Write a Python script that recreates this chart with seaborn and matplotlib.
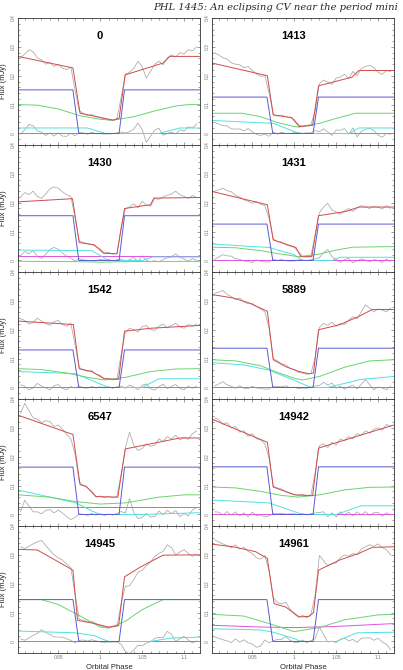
import matplotlib
matplotlib.use("Agg")
import matplotlib.pyplot as plt
import seaborn as sns

# panel order, row by row
labels = ["0", "1413", "1430", "1431", "1542", "5889", "6547", "14942", "14945", "14961"]

# phases of the observed points (same sampling in every panel)
phase = [0.905, 0.910, 0.915, 0.920, 0.925, 0.930, 0.935, 0.940, 0.945, 0.950,
         0.955, 0.960, 0.965, 0.970, 0.975, 0.980, 0.985, 0.990, 0.995, 1.000,
         1.005, 1.010, 1.015, 1.020, 1.025, 1.030, 1.035, 1.040, 1.045, 1.050,
         1.055, 1.060, 1.065, 1.070, 1.075, 1.080, 1.085, 1.090, 1.095, 1.100,
         1.105, 1.110, 1.115]

# observed flux (mJy)
flux = {
    "0": [0.262, 0.275, 0.290, 0.283, 0.262, 0.255, 0.240, 0.246, 0.232, 0.240, 0.226, 0.222, 0.230, 0.150, 0.078, 0.070, 0.062, 0.066, 0.058, 0.055, 0.050, 0.046, 0.045, 0.052, 0.125, 0.205, 0.212, 0.225, 0.250, 0.232, 0.192, 0.215, 0.240, 0.250, 0.238, 0.262, 0.272, 0.265, 0.280, 0.275, 0.290, 0.286, 0.300],
    "1413": [0.280, 0.272, 0.262, 0.258, 0.245, 0.240, 0.238, 0.228, 0.232, 0.218, 0.206, 0.198, 0.200, 0.140, 0.068, 0.060, 0.064, 0.058, 0.055, 0.048, 0.030, 0.025, 0.028, 0.030, 0.080, 0.172, 0.185, 0.178, 0.170, 0.192, 0.195, 0.205, 0.190, 0.215, 0.200, 0.225, 0.232, 0.236, 0.228, 0.212, 0.205, 0.218, 0.215],
    "1430": [0.220, 0.235, 0.228, 0.240, 0.222, 0.215, 0.230, 0.248, 0.255, 0.250, 0.238, 0.228, 0.222, 0.148, 0.068, 0.062, 0.058, 0.055, 0.048, 0.040, 0.026, 0.028, 0.022, 0.025, 0.115, 0.178, 0.186, 0.196, 0.182, 0.205, 0.192, 0.188, 0.215, 0.212, 0.220, 0.226, 0.230, 0.240, 0.228, 0.222, 0.215, 0.225, 0.218],
    "1431": [0.240, 0.245, 0.250, 0.242, 0.238, 0.225, 0.220, 0.210, 0.205, 0.198, 0.204, 0.195, 0.190, 0.145, 0.075, 0.066, 0.064, 0.055, 0.050, 0.045, 0.030, 0.015, 0.012, 0.016, 0.090, 0.165, 0.185, 0.198, 0.175, 0.168, 0.160, 0.172, 0.180, 0.170, 0.182, 0.190, 0.186, 0.180, 0.188, 0.185, 0.178, 0.190, 0.180],
    "1542": [0.238, 0.232, 0.220, 0.225, 0.240, 0.230, 0.222, 0.215, 0.228, 0.232, 0.218, 0.212, 0.222, 0.148, 0.070, 0.060, 0.056, 0.058, 0.046, 0.042, 0.030, 0.032, 0.026, 0.030, 0.115, 0.192, 0.205, 0.200, 0.192, 0.210, 0.215, 0.200, 0.198, 0.212, 0.220, 0.206, 0.215, 0.222, 0.210, 0.205, 0.218, 0.212, 0.220],
    "5889": [0.326, 0.330, 0.336, 0.322, 0.315, 0.305, 0.310, 0.296, 0.290, 0.292, 0.280, 0.272, 0.262, 0.205, 0.100, 0.092, 0.082, 0.078, 0.066, 0.062, 0.052, 0.050, 0.046, 0.049, 0.105, 0.208, 0.222, 0.215, 0.226, 0.212, 0.222, 0.218, 0.234, 0.245, 0.238, 0.262, 0.286, 0.275, 0.262, 0.272, 0.268, 0.262, 0.275],
    "6547": [0.350, 0.385, 0.360, 0.335, 0.330, 0.318, 0.325, 0.322, 0.305, 0.310, 0.295, 0.278, 0.262, 0.210, 0.112, 0.100, 0.092, 0.080, 0.060, 0.064, 0.058, 0.062, 0.058, 0.063, 0.140, 0.232, 0.285, 0.240, 0.222, 0.228, 0.245, 0.236, 0.240, 0.262, 0.252, 0.270, 0.262, 0.275, 0.258, 0.268, 0.260, 0.280, 0.290],
    "14942": [0.335, 0.328, 0.312, 0.318, 0.300, 0.305, 0.285, 0.290, 0.270, 0.280, 0.262, 0.258, 0.245, 0.195, 0.098, 0.092, 0.088, 0.080, 0.075, 0.070, 0.066, 0.070, 0.064, 0.068, 0.145, 0.238, 0.245, 0.232, 0.250, 0.240, 0.262, 0.255, 0.270, 0.262, 0.280, 0.275, 0.290, 0.282, 0.295, 0.300, 0.292, 0.312, 0.305],
    "14945": [0.328, 0.322, 0.330, 0.338, 0.345, 0.350, 0.332, 0.316, 0.300, 0.290, 0.282, 0.268, 0.255, 0.165, 0.076, 0.074, 0.068, 0.070, 0.062, 0.055, 0.050, 0.048, 0.050, 0.052, 0.130, 0.191, 0.193, 0.214, 0.240, 0.246, 0.262, 0.275, 0.295, 0.305, 0.312, 0.335, 0.325, 0.300, 0.310, 0.318, 0.305, 0.295, 0.302],
    "14961": [0.352, 0.345, 0.338, 0.332, 0.325, 0.335, 0.320, 0.326, 0.312, 0.305, 0.290, 0.285, 0.298, 0.245, 0.152, 0.135, 0.130, 0.136, 0.112, 0.095, 0.084, 0.090, 0.082, 0.095, 0.160, 0.298, 0.280, 0.262, 0.270, 0.272, 0.290, 0.300, 0.295, 0.305, 0.300, 0.320, 0.328, 0.335, 0.330, 0.338, 0.325, 0.318, 0.300],
}

# residuals (data - model)
resid = {
    "0": [-0.003, 0.013, 0.031, 0.027, 0.009, 0.005, -0.007, 0.002, -0.009, 0.002, -0.009, -0.010, 0.001, -0.008, 0.003, 0.002, -0.003, 0.004, -0.001, -0.001, -0.002, -0.002, -0.001, 0.002, 0.005, 0.002, 0.006, 0.015, 0.036, 0.014, -0.030, -0.010, 0.012, 0.018, -0.006, 0.000, 0.005, -0.002, 0.013, 0.008, 0.023, 0.019, 0.033],
    "1413": [0.038, 0.033, 0.027, 0.026, 0.016, 0.015, 0.016, 0.009, 0.017, 0.006, -0.003, -0.007, -0.002, -0.010, 0.004, -0.002, 0.004, 0.000, -0.001, 0.003, 0.003, 0.000, 0.002, 0.002, 0.010, 0.006, 0.016, 0.005, -0.007, 0.012, 0.011, 0.017, -0.002, 0.019, -0.012, 0.007, 0.014, 0.018, 0.010, -0.006, -0.013, 0.000, -0.003],
    "1430": [0.016, 0.031, 0.023, 0.034, 0.015, 0.007, 0.021, 0.038, 0.045, 0.039, 0.026, 0.015, 0.008, -0.002, 0.006, 0.002, 0.000, -0.001, -0.002, 0.004, 0.001, 0.004, -0.002, 0.002, 0.005, -0.003, 0.003, 0.011, -0.005, 0.016, 0.001, -0.005, -0.001, -0.005, 0.003, 0.009, 0.013, 0.023, 0.011, 0.005, -0.003, 0.007, 0.000],
    "1431": [0.003, 0.012, 0.020, 0.016, 0.015, 0.006, 0.004, -0.002, -0.004, -0.007, 0.002, -0.003, -0.005, -0.005, 0.004, 0.000, 0.003, -0.001, -0.002, -0.002, 0.002, 0.002, -0.001, 0.003, 0.005, 0.009, 0.027, 0.038, 0.013, 0.004, -0.007, 0.003, 0.007, -0.008, -0.001, 0.005, 0.001, -0.005, 0.003, 0.000, -0.007, 0.005, -0.005],
    "1542": [0.009, 0.004, -0.008, -0.002, 0.014, 0.005, -0.002, -0.008, 0.006, 0.010, -0.003, -0.008, 0.003, -0.002, 0.005, -0.002, -0.002, 0.003, -0.002, 0.002, -0.002, 0.002, -0.003, 0.002, 0.005, -0.003, 0.008, 0.002, -0.008, 0.008, 0.012, -0.005, -0.009, 0.004, 0.011, -0.004, 0.004, 0.010, -0.003, -0.008, 0.004, -0.003, 0.005],
    "5889": [0.005, 0.012, 0.020, 0.009, 0.004, -0.003, 0.006, -0.003, -0.004, 0.004, -0.002, -0.003, -0.006, -0.005, 0.004, 0.004, 0.002, 0.006, -0.001, 0.001, -0.004, -0.002, -0.003, 0.001, 0.005, 0.007, 0.018, 0.008, 0.015, -0.002, 0.004, -0.006, 0.003, 0.008, -0.005, 0.011, 0.028, 0.009, -0.008, 0.002, -0.002, -0.008, 0.005],
    "6547": [0.009, 0.049, 0.029, 0.009, 0.009, 0.002, 0.014, 0.017, 0.005, 0.015, 0.005, -0.007, -0.018, -0.010, 0.002, 0.000, -0.003, 0.003, -0.002, 0.002, -0.003, 0.001, -0.002, 0.003, 0.010, 0.005, 0.055, 0.007, -0.014, -0.011, 0.003, -0.009, -0.007, 0.012, -0.001, 0.014, 0.003, 0.013, -0.007, 0.003, -0.005, 0.015, 0.025],
    "14942": [0.009, 0.008, -0.002, 0.010, -0.002, 0.009, -0.005, 0.006, -0.008, 0.008, -0.004, -0.002, -0.009, -0.005, 0.003, 0.002, 0.004, 0.001, 0.002, 0.002, -0.001, 0.003, -0.002, 0.003, 0.005, 0.007, 0.009, -0.008, 0.006, -0.009, 0.009, -0.003, 0.008, -0.005, 0.009, -0.001, 0.010, -0.003, 0.006, 0.007, -0.006, 0.006, -0.002],
    "14945": [0.009, 0.004, 0.012, 0.021, 0.028, 0.041, 0.031, 0.024, 0.016, 0.015, 0.015, 0.009, 0.004, -0.005, 0.004, 0.005, 0.001, 0.006, 0.002, -0.002, -0.003, -0.002, -0.002, -0.002, -0.010, -0.035, -0.042, -0.030, -0.013, -0.015, -0.006, -0.001, 0.011, 0.014, 0.013, 0.035, 0.025, 0.000, 0.010, 0.018, 0.005, -0.005, 0.002],
    "14961": [0.016, 0.011, 0.006, 0.002, -0.004, 0.009, -0.003, 0.006, -0.005, -0.009, -0.020, -0.016, 0.005, -0.005, 0.002, 0.007, 0.007, 0.017, 0.004, -0.003, -0.003, 0.005, -0.004, 0.003, 0.010, 0.050, 0.024, -0.002, 0.001, -0.004, 0.007, 0.012, 0.002, 0.007, -0.003, 0.011, 0.012, 0.013, 0.004, 0.011, -0.002, -0.010, -0.028],
}

# total model light curve (red)
model_ph = {
    "0": [0.902, 0.9675, 0.976, 1.016, 1.0226, 1.0298, 1.075, 1.083, 1.119],
    "1413": [0.902, 0.968, 0.975, 0.997, 1.006, 1.022, 1.029, 1.069, 1.077, 1.119],
    "1430": [0.902, 0.967, 0.975, 0.993, 1.004, 1.020, 1.029, 1.060, 1.064, 1.119],
    "1431": [0.902, 0.968, 0.975, 1.002, 1.008, 1.021, 1.029, 1.062, 1.077, 1.119],
    "1542": [0.902, 0.968, 0.975, 0.990, 1.005, 1.022, 1.029, 1.060, 1.119],
    "5889": [0.902, 0.927, 0.946, 0.968, 0.975, 0.990, 1.006, 1.018, 1.023, 1.029, 1.054, 1.077, 1.093, 1.119],
    "6547": [0.902, 0.9675, 0.976, 0.983, 0.995, 1.021, 1.030, 1.095, 1.119],
    "14942": [0.902, 0.968, 0.975, 1.000, 1.022, 1.029, 1.119],
    "14945": [0.902, 0.925, 0.9675, 0.973, 0.990, 1.010, 1.022, 1.029, 1.048, 1.075, 1.119],
    "14961": [0.902, 0.927, 0.954, 0.968, 0.976, 0.990, 1.006, 1.018, 1.023, 1.029, 1.054, 1.077, 1.093, 1.119],
}
model = {
    "0": [0.267, 0.227, 0.070, 0.046, 0.053, 0.203, 0.244, 0.267, 0.267],
    "1413": [0.244, 0.200, 0.064, 0.055, 0.024, 0.028, 0.165, 0.195, 0.218, 0.218],
    "1430": [0.203, 0.214, 0.062, 0.054, 0.025, 0.023, 0.180, 0.193, 0.216, 0.218],
    "1431": [0.239, 0.193, 0.071, 0.045, 0.013, 0.013, 0.155, 0.170, 0.185, 0.185],
    "1542": [0.230, 0.218, 0.065, 0.055, 0.030, 0.028, 0.195, 0.205, 0.215],
    "5889": [0.322, 0.310, 0.293, 0.264, 0.096, 0.072, 0.055, 0.047, 0.050, 0.200, 0.217, 0.246, 0.270, 0.270],
    "6547": [0.344, 0.277, 0.103, 0.098, 0.062, 0.060, 0.227, 0.265, 0.265],
    "14942": [0.330, 0.250, 0.095, 0.068, 0.065, 0.230, 0.310],
    "14945": [0.319, 0.317, 0.247, 0.073, 0.064, 0.050, 0.055, 0.224, 0.258, 0.299, 0.300],
    "14961": [0.337, 0.328, 0.311, 0.288, 0.131, 0.119, 0.085, 0.087, 0.100, 0.247, 0.282, 0.305, 0.326, 0.328],
}

# white dwarf (blue): flat level outside eclipse, zero inside
wd_ph = [0.902, 0.9675, 0.9745, 1.0225, 1.029, 1.119]
wd_level = {"0": 0.151, "1413": 0.126, "1430": 0.155, "1431": 0.126, "1542": 0.130,
            "5889": 0.136, "6547": 0.164, "14942": 0.165, "14945": 0.145, "14961": 0.145}

# disc (green)
disc_ph = {
    "0": [0.902, 0.925, 0.950, 0.975, 1.000, 1.015, 1.040, 1.065, 1.090, 1.105, 1.119],
    "1413": [0.902, 0.938, 0.960, 0.980, 1.000, 1.006, 1.030, 1.050, 1.073, 1.119],
    "1430": [0.902, 0.970, 1.000, 1.030, 1.119],
    "1431": [0.902, 0.930, 0.960, 0.980, 1.005, 1.030, 1.050, 1.070, 1.119],
    "1542": [0.902, 0.930, 0.960, 0.985, 1.005, 1.030, 1.060, 1.090, 1.119],
    "5889": [0.902, 0.930, 0.960, 0.980, 1.000, 1.010, 1.030, 1.060, 1.090, 1.119],
    "6547": [0.902, 0.940, 0.970, 1.000, 1.030, 1.070, 1.100, 1.119],
    "14942": [0.902, 0.930, 0.960, 0.985, 1.005, 1.030, 1.060, 1.090, 1.119],
    "14945": [0.902, 0.930, 0.950, 0.975, 1.000, 1.010, 1.030, 1.050, 1.075, 1.119],
    "14961": [0.902, 0.940, 0.970, 1.000, 1.030, 1.060, 1.100, 1.119],
}
disc = {
    "0": [0.100, 0.098, 0.085, 0.062, 0.049, 0.046, 0.058, 0.078, 0.095, 0.100, 0.100],
    "1413": [0.070, 0.070, 0.058, 0.038, 0.024, 0.022, 0.035, 0.052, 0.070, 0.070],
    "1430": [-0.003, -0.004, -0.006, -0.004, -0.003],
    "1431": [0.046, 0.044, 0.034, 0.024, 0.013, 0.022, 0.036, 0.046, 0.048],
    "1542": [0.065, 0.062, 0.050, 0.035, 0.026, 0.035, 0.055, 0.064, 0.065],
    "5889": [0.096, 0.092, 0.075, 0.052, 0.032, 0.026, 0.038, 0.070, 0.092, 0.096],
    "6547": [0.068, 0.060, 0.045, 0.036, 0.040, 0.060, 0.068, 0.068],
    "14942": [0.095, 0.092, 0.080, 0.066, 0.060, 0.068, 0.085, 0.094, 0.095],
    "14945": [0.145, 0.145, 0.128, 0.090, 0.050, 0.046, 0.070, 0.110, 0.145, 0.145],
    "14961": [0.094, 0.088, 0.062, 0.034, 0.048, 0.075, 0.092, 0.094],
}

# bright spot (cyan)
spot_ph = {
    "0": [0.902, 0.985, 1.006, 1.070, 1.095, 1.119],
    "1413": [0.902, 0.975, 1.006, 1.066, 1.077, 1.119],
    "1430": [0.902, 0.990, 1.010, 1.050, 1.062, 1.119],
    "1431": [0.902, 0.970, 1.000, 1.010, 1.045, 1.055, 1.119],
    "1542": [0.902, 0.970, 1.010, 1.050, 1.070, 1.119],
    "5889": [0.902, 0.940, 0.970, 1.000, 1.020, 1.040, 1.080, 1.119],
    "6547": [0.902, 0.972, 0.990, 1.000, 1.050, 1.119],
    "14942": [0.902, 0.970, 1.010, 1.050, 1.080, 1.119],
    "14945": [0.902, 0.970, 0.993, 1.010, 1.060, 1.085, 1.119],
    "14961": [0.902, 0.960, 0.975, 1.000, 1.008, 1.050, 1.075, 1.119],
}
spot = {
    "0": [0.019, 0.019, 0.000, 0.000, 0.019, 0.019],
    "1413": [0.045, 0.035, 0.000, 0.000, 0.019, 0.019],
    "1430": [0.036, 0.034, 0.000, 0.000, 0.012, 0.012],
    "1431": [0.057, 0.045, 0.020, 0.000, 0.000, 0.011, 0.011],
    "1542": [0.055, 0.048, 0.000, 0.000, 0.030, 0.030],
    "5889": [0.086, 0.078, 0.060, 0.025, 0.000, 0.000, 0.028, 0.038],
    "6547": [0.085, 0.039, 0.012, 0.000, 0.000, 0.006],
    "14942": [0.050, 0.040, 0.000, 0.000, 0.030, 0.030],
    "14945": [0.036, 0.030, 0.020, 0.000, 0.000, 0.012, 0.015],
    "14961": [0.044, 0.040, 0.032, 0.010, 0.000, 0.000, 0.030, 0.032],
}

# secondary star (magenta)
sec_ph = {
    "0": [0.902, 1.119], "1413": [0.902, 1.119], "1430": [0.902, 1.119],
    "1431": [0.902, 1.119], "1542": [0.902, 1.119], "5889": [0.902, 1.119],
    "6547": [0.902, 1.119], "14942": [0.902, 1.119], "14945": [0.902, 1.119],
    "14961": [0.902, 0.960, 1.000, 1.050, 1.119],
}
sec = {
    "0": [0.0, 0.0], "1413": [0.0, 0.0], "1430": [0.016, 0.016],
    "1431": [0.0, 0.0], "1542": [0.0, 0.0], "5889": [0.0, 0.0],
    "6547": [0.027, 0.027], "14942": [0.0, 0.0], "14945": [0.0, 0.0],
    "14961": [0.056, 0.050, 0.048, 0.052, 0.062],
}

xticks = [0.95, 1.0, 1.05, 1.1]
xtick_labels = ["0.95", "1", "1.05", "1.1"]
yticks = [0.0, 0.1, 0.2, 0.3, 0.4]
ytick_labels = ["0", "0.1", "0.2", "0.3", "0.4"]

sns.set_theme(style="ticks")
plt.rcParams["font.family"] = ["Liberation Sans", "DejaVu Sans"]

W, H = 403, 670
fig = plt.figure(figsize=(W / 100, H / 100), dpi=100)

c_data = "#a8a8a8"
c_red = "#d24a4a"
c_blue = "#5a5ad6"
c_green = "#6cd46c"
c_cyan = "#4ee2e2"
c_mag = "#e055e0"
lw = 0.7

for i, lab in enumerate(labels):
    row, col = divmod(i, 2)
    left = 18 if col == 0 else 212
    top = 18 + 127 * row
    ax = fig.add_axes([left / W, 1 - (top + 127) / H, 182 / W, 127 / H])

    def line(x, y, color, width=lw):
        sns.lineplot(x=x, y=y, ax=ax, color=color, lw=width,
                     estimator=None, sort=False, legend=False)

    line(phase, flux[lab], c_data, 0.55)
    line(phase, resid[lab], c_data, 0.55)
    line(sec_ph[lab], sec[lab], c_mag)
    line(spot_ph[lab], spot[lab], c_cyan)
    line(disc_ph[lab], disc[lab], c_green)
    w = wd_level[lab]
    line(wd_ph, [w, w, 0.0, 0.0, w, w], c_blue)
    line(model_ph[lab], model[lab], c_red)

    ax.set_xlim(0.902, 1.119)
    ax.set_ylim(-0.04, 0.40)
    ax.set_xticks(xticks)
    ax.set_xticklabels(xtick_labels)
    ax.set_yticks(yticks)
    ax.set_yticklabels(ytick_labels, rotation=90, va="center")
    ax.set_xticks([0.91, 0.92, 0.93, 0.94, 0.96, 0.97, 0.98, 0.99, 1.01, 1.02,
                   1.03, 1.04, 1.06, 1.07, 1.08, 1.09, 1.11], minor=True)
    ax.set_yticks([-0.02, 0.02, 0.04, 0.06, 0.08, 0.12, 0.14, 0.16, 0.18,
                   0.22, 0.24, 0.26, 0.28, 0.32, 0.34, 0.36, 0.38], minor=True)
    ax.tick_params(which="both", direction="in", top=True, right=True,
                   labelsize=3.5, labelcolor="#777777", color="#555555",
                   width=0.4, pad=1.5)
    ax.tick_params(which="major", length=2.5)
    ax.tick_params(which="minor", length=1.2)
    for s in ax.spines.values():
        s.set_linewidth(0.6)
        s.set_color("#333333")
    ax.set_xlabel("")
    ax.set_ylabel("")

    ax.text(0.45, 0.86, lab, transform=ax.transAxes, ha="center", va="center",
            fontsize=8, fontweight="bold", color="black")

    if col == 0:
        ax.set_ylabel("Flux (mJy)", fontsize=5.5, labelpad=2.5)
    if row == 4:
        ax.set_xlabel("Orbital Phase", fontsize=5.5, labelpad=3)

# running header, shown cut off at the page edge in the reference
fig.text(153 / W, 1 - 8 / H, "PHL 1445: An eclipsing CV near the period mini",
         fontsize=7.2, style="italic", family=["DejaVu Serif"], va="center", ha="left")

fig.savefig("out.png", dpi=100)
